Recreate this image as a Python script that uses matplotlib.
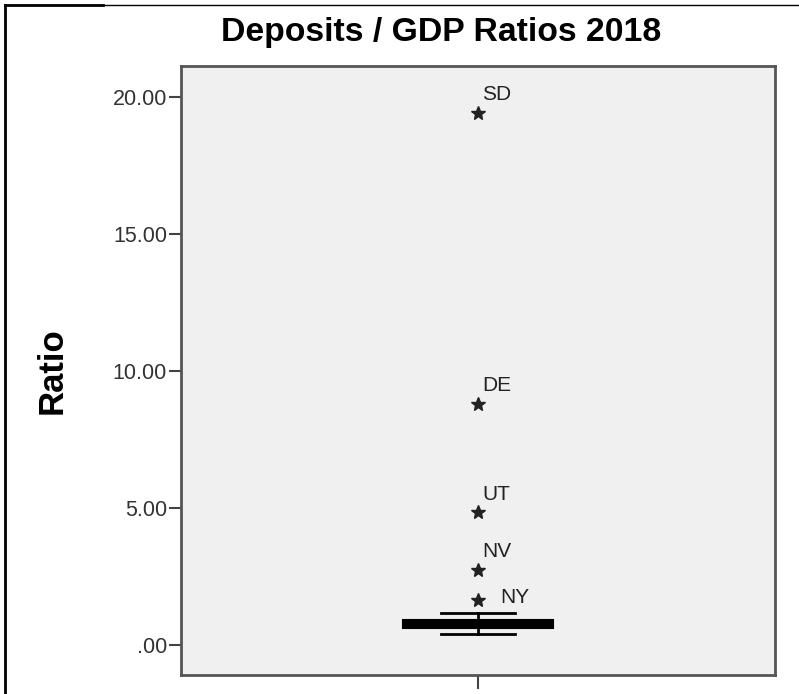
import matplotlib.pyplot as plt
from matplotlib.lines import Line2D

plt.rcParams['font.family'] = ['Liberation Sans', 'DejaVu Sans']

# box statistics
q1 = 0.62
q3 = 0.90
median = 0.75
whisker_low = 0.40
whisker_high = 1.17

# extreme values and their labels
outlier_names = ["SD", "DE", "UT", "NV", "NY"]
outlier_values = [19.42, 8.80, 4.85, 2.74, 1.64]

yticks = [0, 5, 10, 15, 20]
yticklabels = [".00", "5.00", "10.00", "15.00", "20.00"]

fig = plt.figure(figsize=(7.99, 6.94), dpi=100)
ax = fig.add_axes([0.2265, 0.0274, 0.7435, 0.8775])
ax.set_facecolor('#f0f0f0')

stats = [{"med": median, "q1": q1, "q3": q3, "whislo": whisker_low,
          "whishi": whisker_high, "fliers": []}]
ax.bxp(stats, positions=[1], widths=0.2525, capwidths=0.126, patch_artist=True,
       showfliers=False,
       boxprops=dict(facecolor='black', edgecolor='black', linewidth=1.5),
       medianprops=dict(color='black', linewidth=2),
       whiskerprops=dict(color='black', linewidth=2),
       capprops=dict(color='black', linewidth=2))

ax.plot([1] * len(outlier_values), outlier_values, linestyle='none',
        marker='*', markersize=10, color='#222222')
for name, v in zip(outlier_names, outlier_values):
    if name == "NY":
        ax.annotate(name, (1, v), xytext=(16, 2), textcoords='offset points',
                    ha='left', va='center', fontsize=15, color='#222222')
    else:
        ax.annotate(name, (1, v), xytext=(3, 13), textcoords='offset points',
                    ha='left', va='center', fontsize=15, color='#222222')

ax.set_xlim(0.5, 1.5)
ax.set_ylim(-1.095, 21.13)
ax.set_xticks([1])
ax.set_xticklabels([""])
ax.set_yticks(yticks)
ax.set_yticklabels(yticklabels)
ax.tick_params(axis='y', length=9, width=1.5, color='#444444', labelsize=15.5,
               labelcolor='#333333', pad=1)
ax.tick_params(axis='x', length=10, width=1.5, color='#444444')
for s in ax.spines.values():
    s.set_color('#555555')
    s.set_linewidth(2)

ax.set_title("Deposits / GDP Ratios 2018", fontsize=24.3, fontweight='bold',
             pad=18, x=0.438)
ax.set_ylabel("Ratio", fontsize=25, fontweight='bold', labelpad=32)

# outer frame pieces
fig.add_artist(Line2D([0.0065, 0.0065], [0, 0.993], transform=fig.transFigure,
                      color='black', linewidth=2))
fig.add_artist(Line2D([0.0065, 0.129], [0.993, 0.993], transform=fig.transFigure,
                      color='black', linewidth=2))
fig.add_artist(Line2D([0.129, 1.0], [0.993, 0.993], transform=fig.transFigure,
                      color='black', linewidth=1))

fig.savefig('out.png', dpi=100)
